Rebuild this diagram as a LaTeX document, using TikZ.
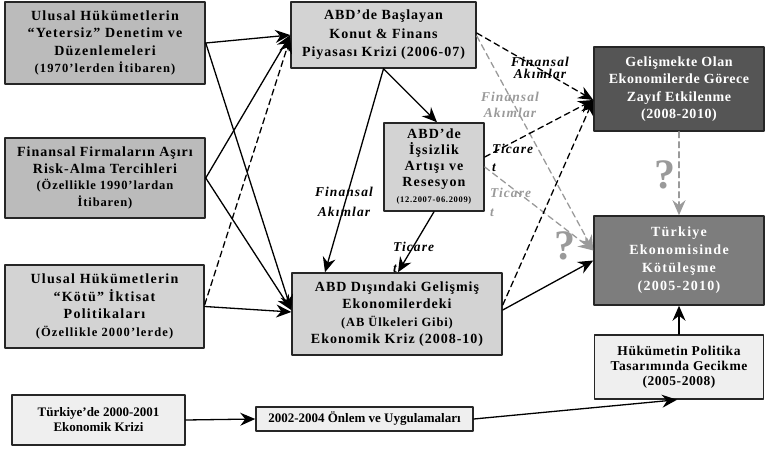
\documentclass[tikz,border=0pt]{standalone}
\usepackage{fontspec}
\setmainfont{Liberation Serif}
\usetikzlibrary{arrows.meta}

\definecolor{koyugri}{HTML}{555555}
\definecolor{ortagri}{HTML}{7D7D7D}
\definecolor{gri1}{HTML}{BBBBBB}
\definecolor{gri2}{HTML}{D3D3D3}
\definecolor{acikgri}{HTML}{EFEFEF}
\definecolor{okgri}{HTML}{9A9A9A}

\newcommand{\kucuk}{\fontsize{12.5}{17.5}\selectfont}

\tikzset{
  kutu/.style={draw=black!85, line width=1.5pt, align=center, inner sep=0pt,
    font=\fontsize{14}{17.5}\selectfont\bfseries\addfontfeature{LetterSpace=9}},
  duz/.style={draw=black!85, line width=1.5pt, align=center, inner sep=0pt, fill=acikgri,
    font=\fontsize{13}{15}\selectfont\bfseries},
  ok/.style={->, line width=1.3pt},
  kesik/.style={->, line width=1.3pt, dash pattern=on 6pt off 4pt},
  gri/.style={color=okgri},
  etiket/.style={align=left, inner sep=0pt,
    font=\fontsize{13.5}{#1}\selectfont\bfseries\itshape\addfontfeature{LetterSpace=8}},
  soru/.style={text=okgri, inner sep=0pt, font=\fontsize{42}{42}\selectfont\bfseries}
}

\begin{document}
\begin{tikzpicture}[line cap=round,line join=round,>={Stealth[length=15pt,width=13pt,inset=5pt]},x=1pt,y=1pt]
\useasboundingbox (0,0) rectangle (765,448);
% kutular
\node[kutu, fill=gri1, minimum width=200pt, minimum height=82pt] (yetersiz) at (105,405)
  {Ulusal Hükümetlerin\\“Yetersiz” Denetim ve\\Düzenlemeleri\\\kucuk (1970’lerden İtibaren)};
\node[kutu, fill=gri2, minimum width=185pt, minimum height=66pt,
  font=\fontsize{14}{18.5}\selectfont\bfseries\addfontfeature{LetterSpace=7}] (konut) at (383.5,413)
  {ABD’de Başlayan\\Konut \& Finans\\Piyasası Krizi (2006-07)};
\node[kutu, fill=koyugri, text=white, minimum width=170pt, minimum height=84pt,
  font=\fontsize{14}{17.5}\selectfont\bfseries\addfontfeature{LetterSpace=4}] (gelis) at (679,359)
  {Gelişmekte Olan\\Ekonomilerde Görece\\Zayıf Etkilenme\\(2008-2010)};
\node[kutu, fill=gri1, minimum width=200pt, minimum height=80pt,
  font=\fontsize{14}{16.5}\selectfont\bfseries\addfontfeature{LetterSpace=7}] (firma) at (105,270)
  {Finansal Firmaların Aşırı\\Risk-Alma Tercihleri\\\kucuk (Özellikle 1990’lardan\\\kucuk İtibaren)};
\node[kutu, fill=gri2, minimum width=100pt, minimum height=88pt,
  font=\fontsize{14}{16}\selectfont\bfseries\addfontfeature{LetterSpace=8}] (issizlik) at (434,281)
  {ABD’de\\İşsizlik\\Artışı ve\\Resesyon\\\fontsize{8.5}{16}\selectfont (12.2007-06.2009)};
\node[kutu, fill=ortagri, text=white, minimum width=170pt, minimum height=89pt,
  font=\fontsize{14}{18}\selectfont\bfseries\addfontfeature{LetterSpace=9}] (turkiye) at (679,187.5)
  {Türkiye\\Ekonomisinde\\Kötüleşme\\(2005-2010)};
\node[kutu, fill=gri2, minimum width=199pt, minimum height=83pt] (kotu) at (104.5,141.5)
  {Ulusal Hükümetlerin\\“Kötü” İktisat\\Politikaları\\\kucuk (Özellikle 2000’lerde)};
\node[kutu, fill=gri2, minimum width=210pt, minimum height=82pt,
  font=\fontsize{14}{17.5}\selectfont\bfseries\addfontfeature{LetterSpace=7}] (dis) at (397,134)
  {ABD Dışındaki Gelişmiş\\Ekonomilerdeki\\\kucuk (AB Ülkeleri Gibi)\\Ekonomik Kriz (2008-10)};
\node[duz, minimum width=169pt, minimum height=64pt,
  font=\fontsize{13.5}{15}\selectfont\bfseries\addfontfeature{LetterSpace=4}] (hukumet) at (679,81)
  {Hükümetin Politika\\Tasarımında Gecikme\\(2005-2008)};
\node[duz, minimum width=173pt, minimum height=50pt] (trkriz) at (98.5,28)
  {Türkiye’de 2000-2001\\Ekonomik Krizi};
\node[duz, minimum width=217pt, minimum height=24pt] (onlem) at (364.5,29)
  {2002-2004 Önlem ve Uygulamaları};
% etiketler
\node[etiket=12, align=center] (fa1) at (540,380) {Finansal\\Akımlar};
\node[etiket=16, align=center, text=okgri] (fa2) at (510,343) {Finansal\\Akımlar};
\node[etiket=18, anchor=west] (tc1) at (492,290) {Ticare\\t};
\node[etiket=19, anchor=west, text=okgri] (tc2) at (490,246) {Ticare\\t};
\node[etiket=20, align=center] (fa3) at (344,246) {Finansal\\Akımlar};
\node[etiket=21, anchor=west] (tc3) at (393,191) {Ticare\\t};
\node[soru] (soru1) at (665,273) {?};
\node[soru] (soru2) at (565,202) {?};
% oklar
\draw[ok] (yetersiz.east) -- (konut.west);
\draw[ok] (yetersiz.east) -- ([yshift=4pt]dis.west);
\draw[ok] (firma.east) -- (konut.west);
\draw[ok] (firma.east) -- ([yshift=4pt]dis.west);
\draw[kesik] ([yshift=2pt]kotu.east) -- ([yshift=-3pt]konut.west);
\draw[ok] (kotu.east) -- ([yshift=2pt]dis.west);
\draw[ok] (konut.south) -- ([xshift=-72pt]dis.north);
\draw[ok] (konut.south) -- ([xshift=3pt]issizlik.north);
\draw[ok] (issizlik.south) -- ([xshift=1pt]dis.north);
\draw[kesik] ([yshift=2pt]konut.east) -- ([yshift=-11pt]gelis.west);
\draw[kesik,gri] ([yshift=-1pt]konut.east) -- ([yshift=10pt]turkiye.west);
\draw[kesik] ([yshift=10pt]issizlik.east) -- ([yshift=-11pt]gelis.west);
\draw[kesik,gri] (issizlik.east) -- ([yshift=10pt]turkiye.west);
\draw[kesik] ([yshift=9pt]dis.east) -- ([yshift=-11pt]gelis.west);
\draw[ok] ([yshift=4pt]dis.east) -- (turkiye.west);
\draw[kesik,gri] (gelis.south) -- (turkiye.north);
\draw[ok] (hukumet.north) -- (turkiye.south);
\draw[ok] (trkriz.east) -- (onlem.west);
\draw[ok] (onlem.east) -- ([xshift=-2pt]hukumet.south);
\end{tikzpicture}
\end{document}
